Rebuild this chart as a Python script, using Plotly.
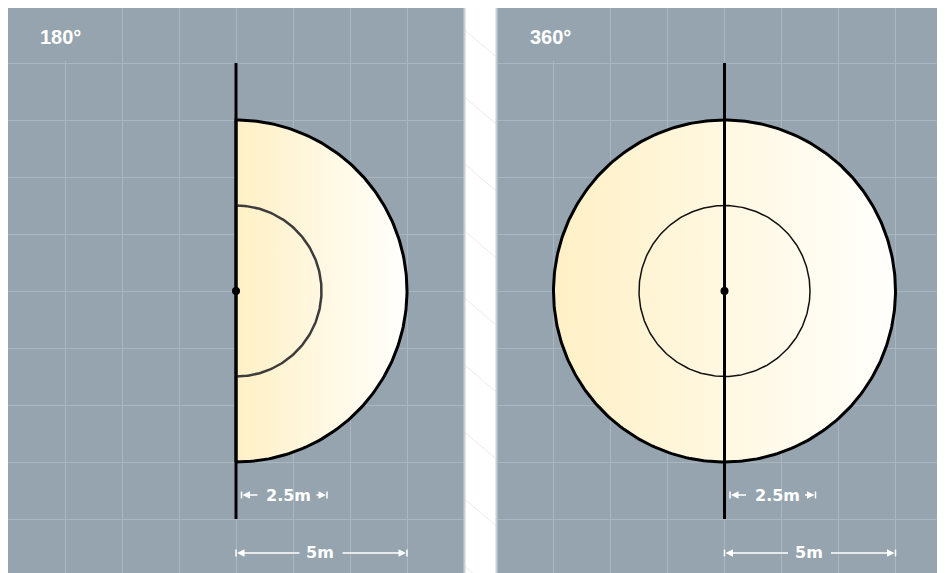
import numpy as np
import plotly.graph_objects as go

# ---- data ----
panel_titles = ["180°", "360°"]
beam_angles = [180, 360]
outer_radius_m = 5.0
inner_radius_m = 2.5
grid_step_m = 5 / 3
pole_half_length_m = 20 / 3
dim_labels = ["2.5m", "5m"]

W, H = 945, 573
OFF = 8  # page body margin in the browser
PANEL_BG = "#95a4ae"
GRID = "#aab7c0"
FILL_SCALE = [[0, "#fff0c5"], [1, "#fffffd"]]

# layout in screen pixels: (left, right, centre x)
panels_px = [(7, 464, 236.0), (497, 953, 724.5)]
top_px, cy_px = 7, 291.0
px_per_m = 171 / outer_radius_m

fig = go.Figure()


def sx(p):  # screen px -> paper x
    return (p - OFF) / W


def sy(p):  # screen px -> paper y
    return 1 - (p - OFF) / H


yr = [-(OFF + H - cy_px) / px_per_m, (cy_px - OFF) / px_per_m]

for i, (x0, x1, cx) in enumerate(panels_px):
    xa = "x" if i == 0 else "x2"
    ya = "y" if i == 0 else "y2"
    axk = "" if i == 0 else "2"
    dx0 = max(x0, OFF)
    dx1 = min(x1, OFF + W)
    xr = [(dx0 - cx) / px_per_m, (dx1 - cx) / px_per_m]
    fig.update_layout(**{
        f"xaxis{axk}": dict(domain=[sx(dx0), sx(dx1)], range=xr,
                            showgrid=True, gridcolor=GRID, gridwidth=1, tick0=0, dtick=grid_step_m,
                            showticklabels=False, zeroline=False, showline=False, fixedrange=True,
                            anchor=ya),
        f"yaxis{axk}": dict(domain=[0, 1], range=yr,
                            showgrid=True, gridcolor=GRID, gridwidth=1, tick0=0, dtick=grid_step_m,
                            showticklabels=False, zeroline=False, showline=False, fixedrange=True,
                            anchor=xa),
    })

    ang = beam_angles[i]
    if ang == 180:
        t = np.linspace(-np.pi / 2, np.pi / 2, 181)
        ox = np.concatenate([outer_radius_m * np.cos(t), [0]])
        oy = np.concatenate([outer_radius_m * np.sin(t), [-outer_radius_m]])
        inner_col, inner_w = "#3c3c3c", 2.5
    else:
        t = np.linspace(0, 2 * np.pi, 361)
        ox = outer_radius_m * np.cos(t)
        oy = outer_radius_m * np.sin(t)
        inner_col, inner_w = "#111111", 1.5
    ix = inner_radius_m * np.cos(t)
    iy = inner_radius_m * np.sin(t)

    fig.add_trace(go.Scatter(x=ox, y=oy, mode="lines", fill="toself",
                             fillgradient=dict(type="horizontal", colorscale=FILL_SCALE),
                             line=dict(color="black", width=3), xaxis=xa, yaxis=ya,
                             hoverinfo="skip", showlegend=False))
    fig.add_trace(go.Scatter(x=ix, y=iy, mode="lines", line=dict(color=inner_col, width=inner_w),
                             xaxis=xa, yaxis=ya, hoverinfo="skip", showlegend=False))
    fig.add_trace(go.Scatter(x=[0, 0], y=[-pole_half_length_m, pole_half_length_m], mode="lines",
                             line=dict(color="black", width=3), xaxis=xa, yaxis=ya,
                             hoverinfo="skip", showlegend=False))
    fig.add_trace(go.Scatter(x=[0], y=[0], mode="markers", marker=dict(color="black", size=8),
                             xaxis=xa, yaxis=ya, hoverinfo="skip", showlegend=False))

    # cover under the title (hides one gridline segment, as in the original)
    fig.add_shape(type="rect", xref=xa, yref=ya, x0=xr[0] - 0.1, x1=-3.5,
                  y0=pole_half_length_m + 0.06, y1=yr[1] + 0.2,
                  fillcolor=PANEL_BG, line_width=0, layer="between")

    fig.add_annotation(x=sx(x0 + 53), y=sy(37), xref="paper", yref="paper",
                       xanchor="center", yanchor="middle",
                       text=f"<b>{panel_titles[i]}</b>", showarrow=False,
                       font=dict(family="Liberation Sans, Arial", size=20, color="white"))

    # light panel border
    fig.add_shape(type="rect", xref="paper", yref="paper",
                  x0=sx(x0 - 0.5), x1=sx(x1 + 0.5), y0=-0.02, y1=sy(top_px - 0.5),
                  line=dict(color="#c8d0d6", width=2), fillcolor="rgba(0,0,0,0)", layer="above")

    # dimension lines: (y, label, start, end, text centre, left tail, right tail)
    p = 1 / px_per_m
    dims = [
        (-5.965, dim_labels[0], 5.5 * p, inner_radius_m + 5.5 * p, 52.5 * p, 22 * p, 80 * p),
        (-7.66, dim_labels[1], 0.0, outer_radius_m, 84 * p, 64 * p, 106 * p),
    ]
    for (yy, lab, a, b, tc, lt, rt) in dims:
        for xx in (a, b):
            fig.add_shape(type="line", xref=xa, yref=ya, x0=xx, x1=xx, y0=yy - 0.1, y1=yy + 0.1,
                          line=dict(color="white", width=1.5), layer="above")
        for (tip, tail) in ((a + 0.03, lt), (b - 0.03, rt)):
            fig.add_annotation(x=tip, y=yy, ax=tail, ay=yy, xref=xa, yref=ya,
                               axref=xa, ayref=ya, text="", showarrow=True, arrowhead=2,
                               arrowsize=1, arrowwidth=1.5, arrowcolor="white",
                               font=dict(size=1), borderpad=0)
        fig.add_annotation(x=tc, y=yy, xref=xa, yref=ya, text=f"<b>{lab}</b>", showarrow=False,
                           font=dict(family="DejaVu Sans", size=16, color="white"))

# faint diagonal background lines in the gap between panels
gx0, gx1 = 464.5, 496.5
for k in range(-1, 10):
    yL = 30 + 67 * k
    yR = yL + 0.85 * (gx1 - gx0)
    fig.add_shape(type="line", xref="paper", yref="paper",
                  x0=sx(gx0), y0=sy(yL), x1=sx(gx1), y1=sy(yR),
                  line=dict(color="#ebebeb", width=1), layer="below")

fig.update_layout(width=W, height=H, margin=dict(l=0, r=0, t=0, b=0),
                  paper_bgcolor="white", plot_bgcolor=PANEL_BG, showlegend=False)

fig.write_html("out.html")
